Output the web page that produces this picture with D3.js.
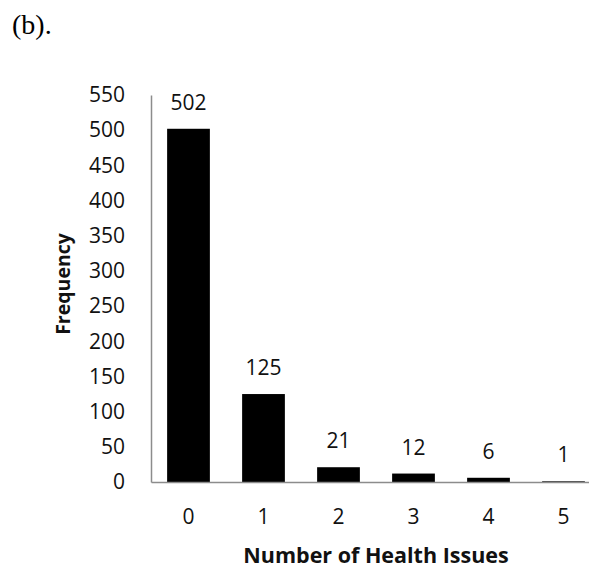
<!DOCTYPE html>
<html><head><meta charset="utf-8">
<script src="https://cdn.jsdelivr.net/npm/d3@7"></script>
<style>body{margin:0;background:#fff;}svg{display:block;}</style>
</head><body>
<svg id="c" width="589" height="572"></svg>
<script>
const categories = ["0","1","2","3","4","5"];
const frequencies = [502,125,21,12,6,1];
const yTicks = [0,50,100,150,200,250,300,350,400,450,500,550];

const svg = d3.select("#c");
const font = "'Open Sans', sans-serif";
const x = d3.scaleBand().domain(categories).range([151,601]).paddingInner(0.43).paddingOuter(0.215);
const y = d3.scaleLinear().domain([0,550]).range([482,95]);

svg.append("text").attr("x",12).attr("y",34).attr("font-family","'Liberation Serif', 'Times New Roman', serif")
  .attr("font-size",28).attr("fill","#000").text("(b).");

// bars
svg.selectAll("rect.bar").data(frequencies).enter().append("rect")
  .attr("x",(d,i)=>x(categories[i])).attr("width",x.bandwidth())
  .attr("y",d=>y(d)).attr("height",d=>y(0)-y(d)).attr("fill","#000");

// axes
const yAxis = svg.append("g").attr("transform","translate(151,0)")
  .call(d3.axisLeft(y).tickValues(yTicks).tickSize(0).tickPadding(26));
yAxis.select(".domain").attr("stroke","#8c8c8c").attr("stroke-width",1.5);
yAxis.selectAll("text").attr("font-family",font).attr("font-size",21).attr("fill","#111");

const xAxis = svg.append("g").attr("transform","translate(0,482)")
  .call(d3.axisBottom(x).tickSize(0).tickPadding(27));
xAxis.select(".domain").attr("stroke","#8c8c8c").attr("stroke-width",1.5);
xAxis.selectAll("text").attr("font-family",font).attr("font-size",21).attr("fill","#111");

// data labels
svg.selectAll("text.lbl").data(frequencies).enter().append("text")
  .attr("x",(d,i)=>x(categories[i])+x.bandwidth()/2).attr("y",d=>y(d)-19)
  .attr("text-anchor","middle").attr("font-family",font).attr("font-size",21).attr("fill","#111")
  .text(d=>d);

svg.append("text").attr("x",376).attr("y",563).attr("text-anchor","middle")
  .attr("font-family",font).attr("font-weight","bold").attr("font-size",21.5).attr("fill","#111")
  .text("Number of Health Issues");
svg.append("text").attr("transform","translate(70,284) rotate(-90)").attr("text-anchor","middle")
  .attr("font-family",font).attr("font-weight","bold").attr("font-size",19.5).attr("fill","#111")
  .text("Frequency");
</script>
</body></html>
